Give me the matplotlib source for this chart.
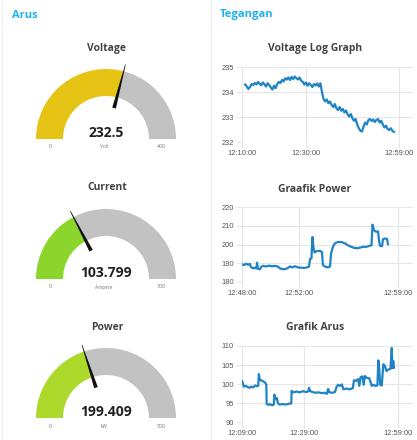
import matplotlib
matplotlib.use('Agg')
import matplotlib.pyplot as plt
from matplotlib.patches import Wedge, Polygon
import numpy as np

# ---------------- data ----------------
gauge_titles = ['Voltage', 'Current', 'Power']
gauge_values = [232.5, 103.799, 199.409]
gauge_value_text = ['232.5', '103.799', '199.409']
gauge_min = [0, 0, 0]
gauge_max = [400, 300, 500]
gauge_units = ['Volt', 'Ampere', 'kW']
gauge_colors = ['#e5c416', '#8cd52c', '#acd92b']

volt_title = 'Voltage Log Graph'
volt_t = [1.0, 1.5, 2.0, 2.5, 3.0, 3.5, 4.0, 4.5, 5.0, 5.5, 6.0, 6.5, 7.0, 7.5, 8.0, 8.5,
          9.0, 9.5, 10.0, 10.5, 11.0, 11.5, 12.0, 12.5, 13.0, 13.5, 14.0, 14.5, 15.0, 15.5,
          16.0, 16.5, 17.0, 17.5, 18.0, 18.5, 19.0, 19.5, 20.0, 20.5, 21.0, 21.5, 22.0, 22.5,
          23.0, 23.5, 24.0, 24.5, 25.0, 25.5, 26.0, 26.5, 27.0, 27.5, 28.0, 28.5, 29.0, 29.5,
          30.0, 30.5, 31.0, 31.5, 32.0, 32.5, 33.0, 33.5, 34.0, 34.5, 35.0, 35.5, 36.0, 36.5,
          37.0, 37.5, 38.0, 38.5, 39.0, 39.5, 40.0, 40.5, 41.0, 41.5, 42.0, 42.5, 43.0, 43.5,
          44.0, 44.5, 45.0, 45.5, 46.0, 46.5, 47.0, 47.5]
volt_v = [234.30, 234.22, 234.12, 234.20, 234.32, 234.28, 234.36, 234.30, 234.40, 234.33,
          234.27, 234.38, 234.31, 234.22, 234.35, 234.28, 234.18, 234.10, 234.25, 234.15,
          234.32, 234.40, 234.36, 234.48, 234.42, 234.55, 234.50, 234.58, 234.48, 234.60,
          234.52, 234.62, 234.55, 234.50, 234.58, 234.45, 234.40, 234.30, 234.38, 234.25,
          234.35, 234.28, 234.20, 234.32, 234.26, 234.34, 234.22, 234.35, 234.00, 233.72,
          233.62, 233.70, 233.55, 233.62, 233.48, 233.40, 233.52, 233.35, 233.28, 233.40,
          233.25, 233.32, 233.18, 233.26, 233.10, 233.02, 233.12, 232.95, 232.85, 232.92,
          232.70, 232.55, 232.45, 232.42, 232.62, 232.78, 232.70, 232.88, 232.92, 232.84,
          232.90, 232.80, 232.88, 232.92, 232.78, 232.85, 232.70, 232.58, 232.65, 232.52,
          232.48, 232.55, 232.45, 232.40]
volt_xticks = [0, 20, 49]
volt_xticklabels = ['12:10:00', '12:30:00', '12:59:00']
volt_yticks = [232, 233, 234, 235]

power_title = 'Graafik Power'
power_t = [0.0, 0.14, 0.28, 0.42, 0.56, 0.63, 0.77, 0.92, 1.02, 1.06, 1.13, 1.27, 1.34, 1.48,
           1.69, 1.90, 2.11, 2.32, 2.54, 2.68, 2.89, 3.10, 3.24, 3.38, 3.52, 3.73, 3.94, 4.15,
           4.37, 4.58, 4.72, 4.79, 4.89, 4.96, 5.04, 5.11, 5.28, 5.49, 5.63, 5.70, 5.85, 6.06,
           6.20, 6.27, 6.37, 6.48, 6.62, 6.83, 7.04, 7.25, 7.46, 7.68, 7.89, 8.10, 8.31, 8.52,
           8.73, 8.94, 9.12, 9.19, 9.30, 9.44, 9.58, 9.65, 9.72, 9.86, 9.93, 10.07, 10.21, 10.28]
power_v = [189.5, 189.0, 189.8, 189.2, 189.6, 188.0, 187.3, 187.6, 187.2, 190.3, 187.0, 186.8,
           188.0, 188.6, 188.3, 188.7, 188.4, 188.6, 188.2, 187.2, 186.8, 187.0, 187.6, 188.3,
           187.8, 188.4, 187.8, 187.6, 187.5, 187.8, 188.2, 192.3, 192.5, 204.0, 198.0, 195.8,
           196.5, 196.6, 196.0, 189.0, 188.2, 187.8, 188.3, 195.0, 198.0, 200.0, 201.0, 201.4,
           201.2, 200.6, 199.6, 198.8, 198.2, 198.0, 198.3, 198.8, 198.7, 199.2, 199.6, 210.6,
           207.5, 206.8, 207.0, 202.0, 199.4, 199.0, 202.8, 203.2, 203.0, 200.2]
power_xticks = [0, 4, 11]
power_xticklabels = ['12:48:00', '12:52:00', '12:59:00']
power_yticks = [180, 190, 200, 210, 220]

arus_title = 'Grafik Arus'
arus_t = [0.0, 0.3, 0.6, 1.2, 1.8, 2.4, 3.0, 3.6, 4.2, 4.8, 5.2, 5.4, 5.7, 6.2, 6.8, 7.4, 7.8,
          7.9, 8.4, 9.0, 9.6, 10.2, 10.4, 10.8, 11.2, 11.5, 12.0, 13.0, 14.0, 15.0, 15.8, 15.9,
          16.5, 17.5, 18.5, 19.5, 20.5, 21.2, 21.5, 21.8, 22.5, 23.5, 24.5, 25.5, 26.5, 27.2,
          27.6, 28.0, 29.0, 29.8, 30.3, 30.8, 31.5, 32.0, 32.5, 33.5, 34.5, 35.5, 35.9, 36.6,
          37.2, 37.6, 38.0, 38.6, 39.0, 39.4, 40.0, 40.8, 41.6, 42.2, 42.8, 43.4, 43.7, 44.0,
          44.3, 44.8, 45.3, 45.8, 46.3, 46.9, 47.6, 48.0, 48.2, 48.5, 48.7]
arus_v = [100.8, 100.2, 99.3, 99.5, 99.2, 99.0, 99.3, 99.1, 99.6, 99.4, 99.5, 102.6, 101.2,
          100.9, 100.7, 100.4, 99.8, 94.8, 94.5, 94.7, 94.4, 94.6, 97.2, 96.0, 96.3, 95.0, 94.6,
          94.7, 94.6, 94.8, 94.9, 98.2, 97.8, 98.0, 97.8, 98.1, 97.9, 98.0, 99.0, 98.2, 97.9,
          97.7, 97.8, 97.6, 97.7, 97.4, 98.7, 97.8, 97.7, 97.9, 99.2, 99.8, 99.5, 99.9, 98.6,
          98.8, 98.6, 98.9, 101.0, 100.8, 101.3, 99.5, 101.8, 102.0, 99.8, 102.1, 101.6, 101.5,
          99.5, 99.8, 99.5, 99.6, 106.2, 104.0, 99.8, 99.6, 105.2, 104.8, 103.4, 103.8, 104.0,
          109.5, 104.2, 106.0, 104.3]
arus_xticks = [0, 20, 50]
arus_xticklabels = ['12:09:00', '12:29:00', '12:59:00']
arus_yticks = [90, 95, 100, 105, 110]

# ---------------- layout ----------------
W, H = 417, 440
fig = plt.figure(figsize=(W / 100, H / 100), dpi=100)
fig.patch.set_facecolor('white')
bg = fig.add_axes([0, 0, 1, 1])
bg.set_xlim(0, W)
bg.set_ylim(H, 0)
bg.axis('off')

FONT = ['Open Sans', 'DejaVu Sans']
HEAD = '#1cb2f0'
TITLE_C = '#444444'

bg.plot([2.5, 2.5], [0, H], color='#eeeeee', lw=0.8)
bg.plot([211.5, 211.5], [0, H], color='#eeeeee', lw=0.8)
bg.text(12, 15, 'Arus', color=HEAD, fontsize=8, fontweight='bold', family=FONT,
        ha='left', va='center')
bg.text(220, 15, 'Tegangan', color=HEAD, fontsize=8, fontweight='bold', family=FONT,
        ha='left', va='center')

# gauges
cx = 106
baselines = [139, 279, 418]
R_OUT, R_IN = 70, 43
for i in range(3):
    cy = baselines[i]
    frac = (gauge_values[i] - gauge_min[i]) / (gauge_max[i] - gauge_min[i])
    ang = 180 + 180 * frac
    bg.add_patch(Wedge((cx, cy), R_OUT, 180, ang, width=R_OUT - R_IN,
                       facecolor=gauge_colors[i], edgecolor='none'))
    bg.add_patch(Wedge((cx, cy), R_OUT, ang, 360, width=R_OUT - R_IN,
                       facecolor='#c2c2c2', edgecolor='none'))
    a = np.deg2rad(ang)
    d = np.array([np.cos(a), np.sin(a)])
    p = np.array([-d[1], d[0]])
    c = np.array([cx, cy])
    base = c + 32 * d
    tip = c + 77 * d
    needle = [base + 1.9 * p, tip + 0.3 * p, tip - 0.3 * p, base - 1.9 * p]
    bg.add_patch(Polygon(needle, closed=True, facecolor='#111111', edgecolor='none'))
    bg.text(cx + 1, cy - 91, gauge_titles[i], color=TITLE_C, fontsize=7.5,
            fontweight='bold', family=FONT, ha='center', va='center')
    bg.text(cx, cy - 6, gauge_value_text[i], color='#222222', fontsize=10,
            fontweight='bold', family=FONT, ha='center', va='center')
    bg.text(cx - (R_OUT + R_IN) / 2 + 1, cy + 8, str(gauge_min[i]), color='#777777',
            fontsize=3.8, family=FONT, ha='center', va='center')
    bg.text(cx + (R_OUT + R_IN) / 2 - 1, cy + 8, str(gauge_max[i]), color='#777777',
            fontsize=3.8, family=FONT, ha='center', va='center')
    bg.text(cx - 2, cy + 8, gauge_units[i], color='#777777', fontsize=3.4,
            family=FONT, ha='center', va='center')


def px_axes(x0, y0, x1, y1):
    return fig.add_axes([x0 / W, 1 - y1 / H, (x1 - x0) / W, (y1 - y0) / H])


charts = [
    (volt_title, volt_t, volt_v, volt_xticks, volt_xticklabels, volt_yticks, 67, 142, 3.2),
    (power_title, power_t, power_v, power_xticks, power_xticklabels, power_yticks, 207, 282, 14.2),
    (arus_title, arus_t, arus_v, arus_xticks, arus_xticklabels, arus_yticks, 346, 422, 3.12),
]
X0, X1 = 242, 413
for title, t, v, xt, xtl, yt, y0, y1, ppm in charts:
    ax = px_axes(X0, y0, X1, y1)
    ax.plot(t, v, color='#1f84c6', lw=1.6, solid_joinstyle='round', zorder=3)
    ax.set_xlim(0, (X1 - X0) / ppm)
    ax.set_ylim(yt[0], yt[-1])
    ax.set_xticks(xt)
    ax.set_xticklabels(xtl)
    ax.set_yticks(yt)
    ax.set_yticklabels([str(y) for y in yt])
    ax.grid(True, color='#e6e6e6', lw=0.8)
    ax.set_axisbelow(True)
    for s in ax.spines.values():
        s.set_visible(False)
    ax.tick_params(length=4, color='#e6e6e6', labelcolor='#555555', labelsize=5.4, pad=2)
    for lab in ax.get_xticklabels() + ax.get_yticklabels():
        lab.set_family(['Liberation Sans', 'DejaVu Sans'])
    ax.patch.set_alpha(0)
    bg.text(315, y0 - 18, title, color=TITLE_C, fontsize=7.5, fontweight='bold',
            family=FONT, ha='center', va='center')

fig.savefig('out.png', dpi=100)
